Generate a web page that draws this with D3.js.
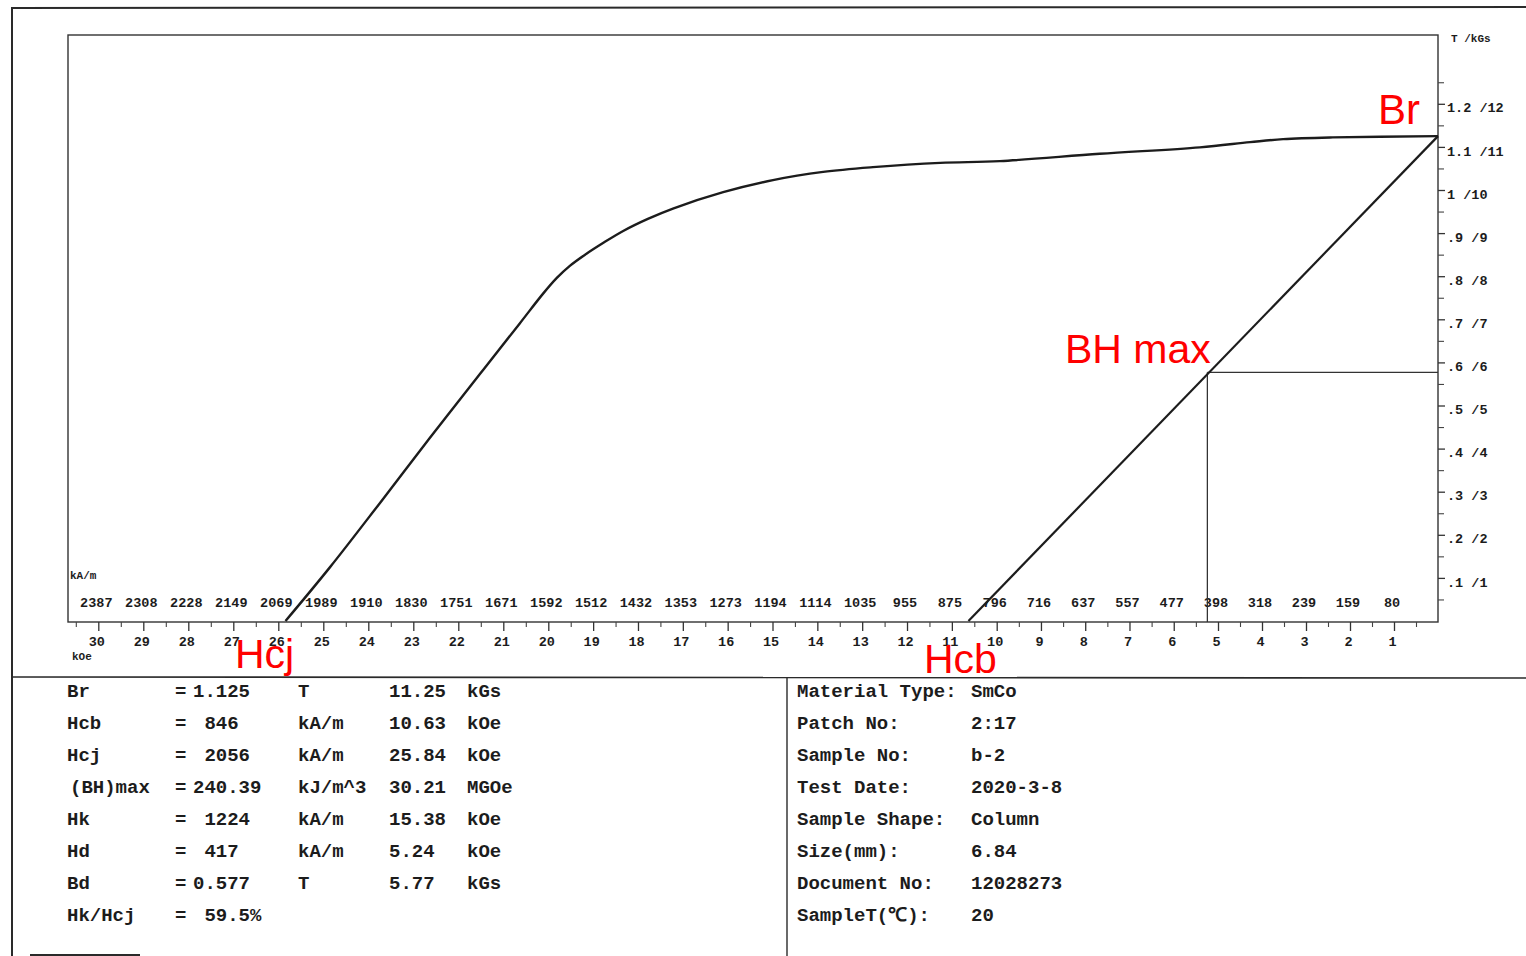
<!DOCTYPE html>
<html>
<head>
<meta charset="utf-8">
<script src="https://cdn.jsdelivr.net/npm/d3@7"></script>
<style>
  html, body { margin: 0; padding: 0; background: #fff; }
  svg { display: block; }
  .mono { font-family: "Liberation Mono", "Courier New", monospace; font-weight: bold; fill: #1c1c1c; }
  .red { font-family: "Liberation Sans", Arial, sans-serif; fill: #ff0000; }
</style>
</head>
<body>
<svg id="chart" width="1526" height="956"></svg>
<script>
// ---- demagnetisation data (H in kOe, B/J in tesla) ----
const jCurveH = [25.84, 24.85, 23.74, 22.63, 21.52, 20.63, 20.12, 19.81, 19.52, 19.18, 18.78, 18.33, 17.78, 17.22, 16.10, 14.99, 13.87, 12.76, 11.26, 9.93, 7.67, 5.41, 4.27, 3.52, 2.39, 0];
const jCurveJ = [0, 0.125, 0.274, 0.425, 0.573, 0.691, 0.759, 0.796, 0.824, 0.850, 0.877, 0.905, 0.933, 0.957, 0.995, 1.023, 1.042, 1.053, 1.063, 1.067, 1.084, 1.099, 1.111, 1.118, 1.122, 1.125];
const bLineH = [10.63, 0];
const bLineB = [0, 1.125];
const hd = 5.24;   // kOe
const bd = 0.577;  // T

// ---- axis ticks and labels ----
const kOeTicks = [30, 29, 28, 27, 26, 25, 24, 23, 22, 21, 20, 19, 18, 17, 16, 15, 14, 13, 12, 11, 10, 9, 8, 7, 6, 5, 4, 3, 2, 1];
const kAmLabels = ["2387", "2308", "2228", "2149", "2069", "1989", "1910", "1830", "1751", "1671", "1592", "1512", "1432", "1353", "1273", "1194", "1114", "1035", "955", "875", "796", "716", "637", "557", "477", "398", "318", "239", "159", "80"];
const kOeMinor = [30.5, 29.5, 28.5, 27.5, 26.5, 25.5, 24.5, 23.5, 22.5, 21.5, 20.5, 19.5, 18.5, 17.5, 16.5, 15.5, 14.5, 13.5, 12.5, 11.5, 10.5, 9.5, 8.5, 7.5, 6.5, 5.5, 4.5, 3.5, 2.5, 1.5, 0.5];
const tTicks = [0.1, 0.2, 0.3, 0.4, 0.5, 0.6, 0.7, 0.8, 0.9, 1.0, 1.1, 1.2];
const tLabels = [".1 /1", ".2 /2", ".3 /3", ".4 /4", ".5 /5", ".6 /6", ".7 /7", ".8 /8", ".9 /9", "1 /10", "1.1 /11", "1.2 /12"];
const tMinor = [0.05, 0.15, 0.25, 0.35, 0.45, 0.55, 0.65, 0.75, 0.85, 0.95, 1.05, 1.15, 1.25];

// ---- result tables ----
const resNames = ["Br", "Hcb", "Hcj", "(BH)max", "Hk", "Hd", "Bd", "Hk/Hcj"];
const resSI = ["1.125", " 846", " 2056", "240.39", " 1224", " 417", "0.577", " 59.5%"];
const resSIUnit = ["T", "kA/m", "kA/m", "kJ/m^3", "kA/m", "kA/m", "T", ""];
const resCGS = ["11.25", "10.63", "25.84", "30.21", "15.38", "5.24", "5.77", ""];
const resCGSUnit = ["kGs", "kOe", "kOe", "MGOe", "kOe", "kOe", "kGs", ""];
const infoNames = ["Material Type:", "Patch No:", "Sample No:", "Test Date:", "Sample Shape:", "Size(mm):", "Document No:", "SampleT(\u2103):"];
const infoValues = ["SmCo", "2:17", "b-2", "2020-3-8", "Column", "6.84", "12028273", "20"];

const svg = d3.select("#chart");
const ink = "#1c1c1c";

// plot frame
const frame = { left: 68, top: 35, right: 1438, bottom: 622 };

// H axis reads right-to-left (0 at the right edge); piecewise calibration
const x = d3.scaleLinear()
  .domain([30, 20, 10, 5, 0])
  .range([98.3, 548.3, 996.7, 1218, 1438]);
const y = d3.scaleLinear().domain([0, 1.2]).range([621, 103.8]);

// outer sheet borders
const sheet = svg.append("g").attr("stroke", "#2a2a2a").attr("fill", "none");
sheet.append("line").attr("x1", 11).attr("y1", 8).attr("x2", 1526).attr("y2", 7).attr("stroke-width", 2);
sheet.append("line").attr("x1", 12).attr("y1", 8).attr("x2", 12).attr("y2", 956).attr("stroke-width", 2);
sheet.append("line").attr("x1", 12).attr("y1", 677).attr("x2", 1526).attr("y2", 678).attr("stroke-width", 1.6);
sheet.append("line").attr("x1", 787).attr("y1", 678).attr("x2", 787).attr("y2", 956).attr("stroke-width", 1.4);
sheet.append("line").attr("x1", 30).attr("y1", 955).attr("x2", 140).attr("y2", 955).attr("stroke-width", 2);

// plot frame
svg.append("rect")
  .attr("x", frame.left).attr("y", frame.top)
  .attr("width", frame.right - frame.left).attr("height", frame.bottom - frame.top)
  .attr("fill", "none").attr("stroke", "#333").attr("stroke-width", 1.4);

// bottom H axis (kOe)
const xAxis = d3.axisBottom(x).tickValues(kOeTicks).tickSize(9).tickPadding(5)
  .tickFormat(d => String(d));
const gx = svg.append("g").attr("transform", `translate(0,${frame.bottom})`).call(xAxis);
gx.select(".domain").remove();
gx.selectAll(".tick line").attr("stroke", "#333").attr("stroke-width", 1.3);
gx.selectAll(".tick text").attr("class", "mono").attr("font-size", 13.5).attr("dx", -2);

const xMinor = d3.axisBottom(x).tickValues(kOeMinor).tickSize(5).tickFormat("");
const gxm = svg.append("g").attr("transform", `translate(0,${frame.bottom})`).call(xMinor);
gxm.select(".domain").remove();
gxm.selectAll(".tick line").attr("stroke", "#444").attr("stroke-width", 1.1);

// kA/m equivalents printed inside the frame
svg.append("g").selectAll("text")
  .data(kOeTicks)
  .join("text")
  .attr("class", "mono")
  .attr("font-size", 13.5)
  .attr("text-anchor", "middle")
  .attr("x", d => x(d) - 2)
  .attr("y", 607)
  .text((d, i) => kAmLabels[i]);

svg.append("text").attr("class", "mono").attr("font-size", 11)
  .attr("x", 70).attr("y", 579).text("kA/m");
svg.append("text").attr("class", "mono").attr("font-size", 11)
  .attr("x", 72).attr("y", 660).text("kOe");

// right B axis (T / kGs)
const yAxis = d3.axisRight(y).tickValues(tTicks).tickSize(7).tickPadding(2)
  .tickFormat((d, i) => tLabels[i]);
const gy = svg.append("g").attr("transform", `translate(${frame.right},0)`).call(yAxis);
gy.select(".domain").remove();
gy.selectAll(".tick line").attr("stroke", "#333").attr("stroke-width", 1.3);
gy.selectAll(".tick text").attr("class", "mono").attr("font-size", 13.5).attr("dy", "0.6em");

const yMinor = d3.axisRight(y).tickValues(tMinor).tickSize(6).tickFormat("");
const gym = svg.append("g").attr("transform", `translate(${frame.right},0)`).call(yMinor);
gym.select(".domain").remove();
gym.selectAll(".tick line").attr("stroke", "#444").attr("stroke-width", 1.1);

svg.append("text").attr("class", "mono").attr("font-size", 11)
  .attr("x", 1451).attr("y", 42).text("T /kGs");

// (BH)max construction lines
const bh = svg.append("g").attr("stroke", "#333").attr("stroke-width", 1.3);
bh.append("line").attr("x1", x(hd)).attr("y1", y(bd)).attr("x2", x(hd)).attr("y2", frame.bottom);
bh.append("line").attr("x1", x(hd)).attr("y1", y(bd)).attr("x2", frame.right).attr("y2", y(bd));

// intrinsic (J) demagnetisation curve
const jPts = jCurveH.map((h, i) => [h, jCurveJ[i]]);
const line = d3.line().x(d => x(d[0])).y(d => y(d[1])).curve(d3.curveCatmullRom.alpha(0.5));
svg.append("path").datum(jPts)
  .attr("d", line)
  .attr("fill", "none").attr("stroke", ink).attr("stroke-width", 2.4)
  .attr("stroke-linejoin", "round");

// normal (B) demagnetisation line
const bPts = bLineH.map((h, i) => [h, bLineB[i]]);
svg.append("path").datum(bPts)
  .attr("d", d3.line().x(d => x(d[0])).y(d => y(d[1])))
  .attr("fill", "none").attr("stroke", ink).attr("stroke-width", 2.2);

// red annotations
svg.append("text").attr("class", "red").attr("font-size", 42).attr("x", 1378).attr("y", 124).text("Br");
svg.append("text").attr("class", "red").attr("font-size", 41).attr("x", 1065).attr("y", 363).text("BH max");
svg.append("text").attr("class", "red").attr("font-size", 41).attr("x", 235).attr("y", 668).text("Hcj");
svg.append("text").attr("class", "red").attr("font-size", 41).attr("x", 924).attr("y", 673).text("Hcb");

// results table (left)
const rowY = i => 697 + i * 32;
const res = svg.append("g").attr("class", "mono").attr("font-size", 19);
res.selectAll(".n").data(resNames).join("text").attr("class", "n")
  .attr("x", d => d.startsWith("(") ? 70 : 67).attr("y", (d, i) => rowY(i)).text(d => d);
res.selectAll(".eq").data(resNames).join("text").attr("class", "eq")
  .attr("x", 175).attr("y", (d, i) => rowY(i)).text("=");
res.selectAll(".v").data(resSI).join("text").attr("class", "v")
  .attr("x", 193).attr("y", (d, i) => rowY(i)).style("white-space", "pre").text(d => d);
res.selectAll(".u").data(resSIUnit).join("text").attr("class", "u")
  .attr("x", 298).attr("y", (d, i) => rowY(i)).text(d => d);
res.selectAll(".c").data(resCGS).join("text").attr("class", "c")
  .attr("x", 389).attr("y", (d, i) => rowY(i)).text(d => d);
res.selectAll(".cu").data(resCGSUnit).join("text").attr("class", "cu")
  .attr("x", 467).attr("y", (d, i) => rowY(i)).text(d => d);

// sample information (right)
const info = svg.append("g").attr("class", "mono").attr("font-size", 19);
info.selectAll(".n").data(infoNames).join("text").attr("class", "n")
  .attr("x", 797).attr("y", (d, i) => rowY(i)).text(d => d);
info.selectAll(".v").data(infoValues).join("text").attr("class", "v")
  .attr("x", 971).attr("y", (d, i) => rowY(i)).text(d => d);
</script>
</body>
</html>
